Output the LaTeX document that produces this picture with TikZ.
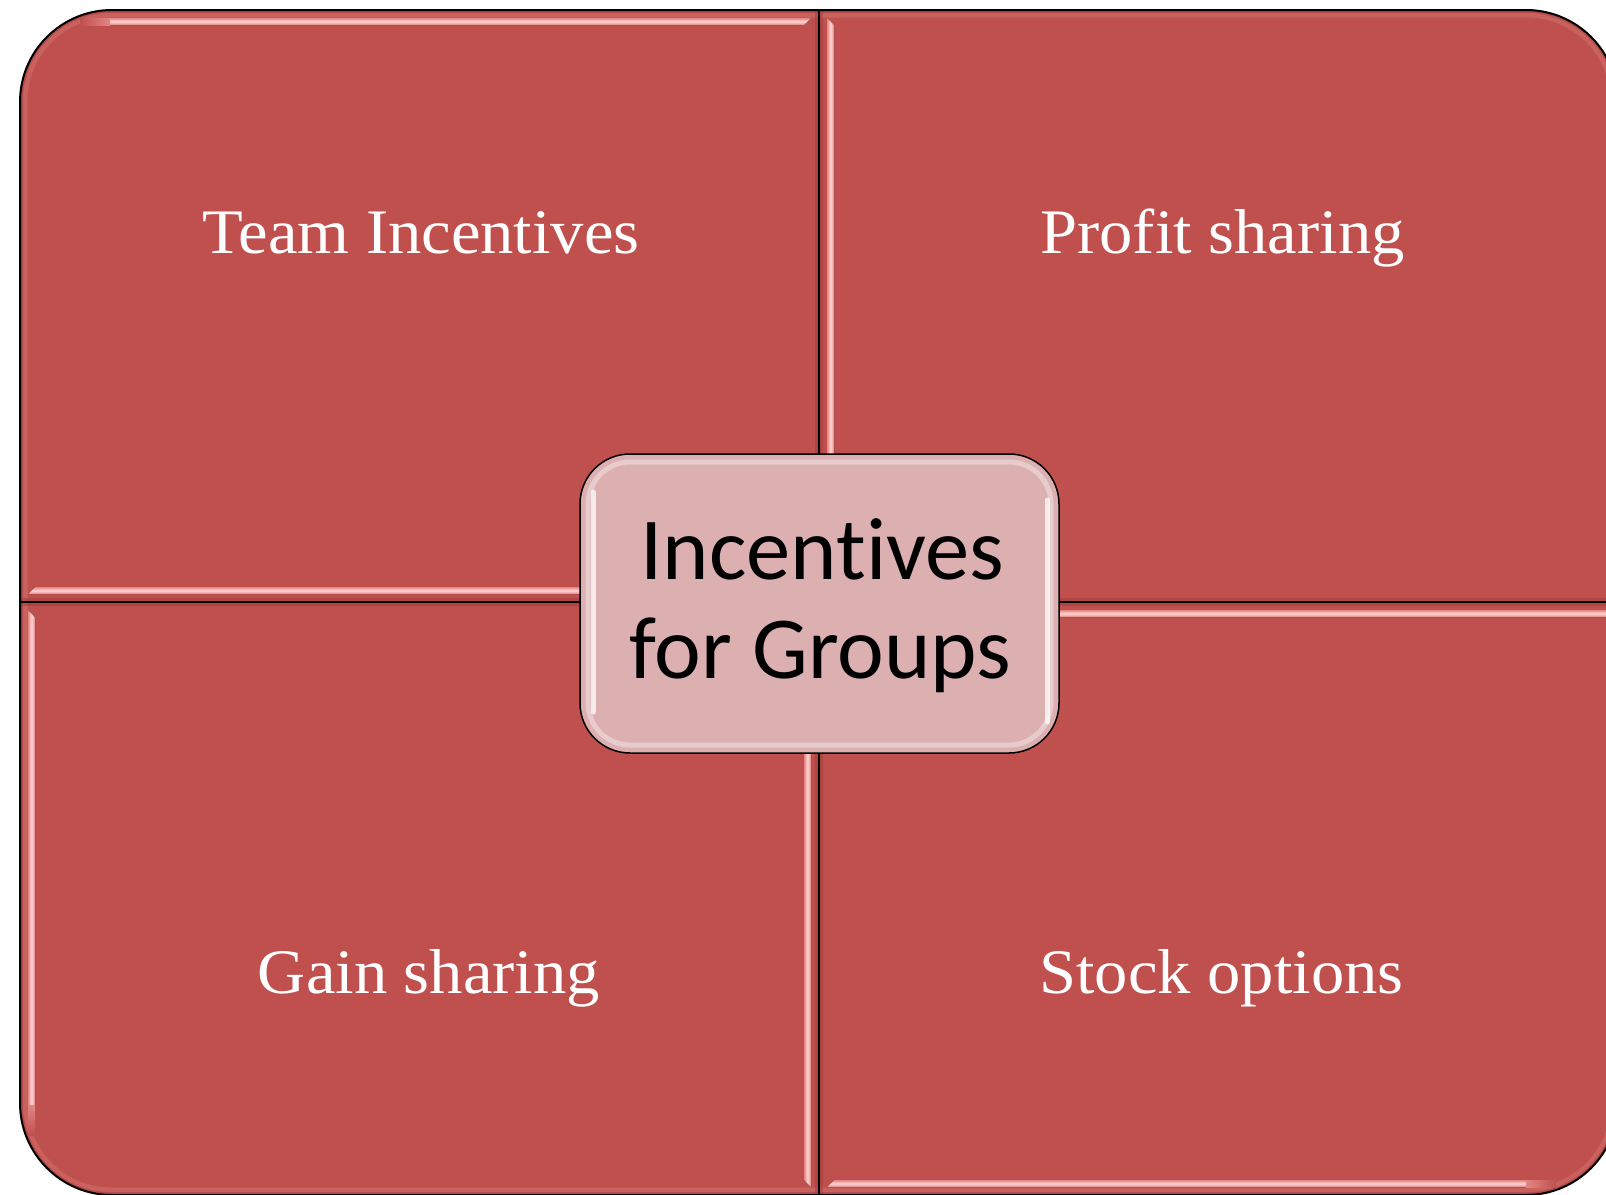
\documentclass[tikz,border=0pt]{standalone}
\usepackage{fontspec}
\newfontfamily\quadfont[FakeStretch=1.05]{Liberation Serif}
\newfontfamily\hubfont[RawFeature={-liga}]{Carlito}
\definecolor{quadred}{RGB}{192,80,77}
\definecolor{quadrim}{RGB}{150,58,56}
\definecolor{stripeedge}{RGB}{226,134,131}
\definecolor{stripemid}{RGB}{255,212,210}
\definecolor{rimpink}{RGB}{240,170,168}
\definecolor{hubpink}{RGB}{220,176,177}
\begin{document}
\begin{tikzpicture}[x=0.5pt,y=-0.5pt,
  quadlabel/.style={text=white,font=\quadfont\fontsize{31.7pt}{38pt}\selectfont,anchor=base,inner sep=0pt},
  hublabel/.style={text=black,font=\hubfont\fontsize{44.25pt}{50pt}\selectfont,anchor=base,inner sep=0pt},
  hstripe/.style={top color=stripeedge,bottom color=stripeedge,middle color=stripemid},
  vstripe/.style={left color=stripeedge,right color=stripeedge,middle color=stripemid},
  divider/.style={line width=0.9pt,draw=black},
  dividershade/.style={line width=4pt,draw=quadrim,opacity=0.45},
]
\useasboundingbox (0,0) rectangle (1606,1194);
\fill[white] (0,0) rectangle (1606,1194);
\clip (0,0) rectangle (1606,1194);

% the four-part matrix body
\fill[quadred,rounded corners=46pt] (20,10) rectangle (1618,1195);

\begin{scope}
  \clip[rounded corners=46pt] (20,10) rectangle (1618,1195);
  % soft bevel rim along the outer edge
  \draw[rimpink,line width=2.5pt,opacity=0.2,rounded corners=43pt] (25,15) rectangle (1613,1190);
  \draw[quadrim,line width=1.5pt,opacity=0.35,rounded corners=45pt] (21.5,11.5) rectangle (1616.5,1193.5);
  % bevel highlights of the four parts
  \fill[hstripe] (110,18) -- (811,18) -- (804,25) -- (110,25) -- cycle;
  \fill[hstripe] (28,594) -- (811,594) -- (804,587) -- (35,587) -- cycle;
  \fill[vstripe] (827,18) -- (834,25) -- (834,587) -- (827,594) -- cycle;
  \fill[vstripe] (28,610) -- (35,617) -- (35,1105) -- (28,1105) -- cycle;
  \fill[vstripe] (811,610) -- (804,617) -- (804,1180) -- (811,1187) -- cycle;
  \fill[hstripe] (827,610) -- (834,617) -- (1618,617) -- (1618,610) -- cycle;
  \fill[hstripe] (827,1187) -- (834,1180) -- (1526,1180) -- (1526,1187) -- cycle;
  % short fades where the highlights meet the rounded corners
  \fill[left color=quadred,right color=stripeedge] (80,18) rectangle (110,25);
  \fill[top color=stripeedge,bottom color=quadred] (28,1105) rectangle (35,1135);
  \fill[left color=stripeedge,right color=quadred] (1526,1180) rectangle (1556,1187);
  % shaded seams between the parts
  \draw[dividershade] (819,10) -- (819,1195);
  \draw[dividershade] (20,602) -- (1618,602);
\end{scope}

% seams and outline
\draw[divider] (819,10) -- (819,1195);
\draw[divider] (20,602) -- (1618,602);
\draw[line width=1pt,rounded corners=46pt] (20,10) rectangle (1618,1195);

% labels of the four parts
\node[quadlabel] (team) at (421,253) {Team Incentives};
\node[quadlabel] (profit) at (1222.5,253) {Profit sharing};
\node[quadlabel] (gain) at (429,993) {Gain sharing};
\node[quadlabel] (stock) at (1221.5,993) {Stock options};

% central box
\node[draw=black,line width=0.75pt,fill=hubpink,rounded corners=25pt,
      minimum width=239.5pt,minimum height=149.5pt,inner sep=0pt] (hub) at (819.5,603.5) {};
\draw[white,opacity=0.35,line width=2.5pt,rounded corners=21pt] (588,462) rectangle (1051,745);
\draw[white,opacity=0.75,line width=2.5pt,line cap=round] (593,492) -- (593,712);
\draw[white,opacity=0.75,line width=2.5pt,line cap=round] (1047,500) -- (1047,722);
\node[hublabel] (hubtop) at (822.5,579) {Incentives};
\node[hublabel] (hubbottom) at (820.5,678) {for Groups};
\end{tikzpicture}
\end{document}
